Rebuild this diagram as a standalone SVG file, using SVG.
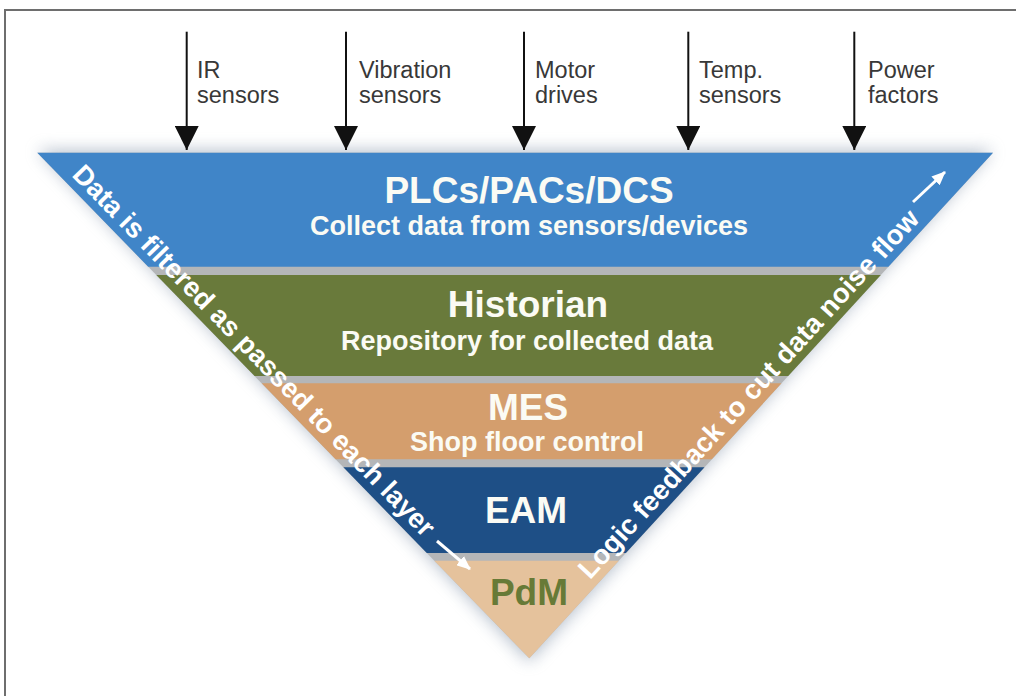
<svg xmlns="http://www.w3.org/2000/svg" width="1016" height="696" viewBox="0 0 1016 696">
<style>
.lbl{font-family:"Liberation Sans",Arial,sans-serif;font-size:23.5px;fill:#383838}
.ttl{font-family:"Liberation Sans",Arial,sans-serif;font-weight:bold;font-size:37px;fill:#fbfbf4;text-anchor:middle}
.sub{font-family:"Liberation Sans",Arial,sans-serif;font-weight:bold;font-size:27px;fill:#fbfbf4;text-anchor:middle}
.diag{font-family:"Liberation Sans",Arial,sans-serif;font-weight:bold;font-size:27.5px;fill:#ffffff}
.conn{stroke:#111;stroke-width:2;fill:none}
.warr{stroke:#fff;stroke-width:3;fill:none}
</style>
<defs>
<marker id="ah" viewBox="0 0 24 24" refX="24" refY="12" markerWidth="24" markerHeight="24" markerUnits="userSpaceOnUse" orient="auto">
<path d="M0,0 L24,12 L0,24 Z" fill="#111"/>
</marker>
<marker id="wh" viewBox="0 0 14 12" refX="13" refY="6" markerWidth="14" markerHeight="12" markerUnits="userSpaceOnUse" orient="auto">
<path d="M0,0 L14,6 L0,12 Z" fill="#fff"/>
</marker>
<filter id="blur" x="-20%" y="-20%" width="140%" height="140%">
<feGaussianBlur stdDeviation="8"/>
</filter>
</defs>
<rect x="0" y="0" width="1016" height="696" fill="#ffffff"/>
<rect x="5" y="10" width="1030" height="720" fill="none" stroke="#6e6e6e" stroke-width="2"/>

<polygon points="37.3,150 993,150 529.3,662" fill="#7f90a6" opacity="0.55" filter="url(#blur)"/>
<polygon points="37.3,152.7 993,152.7 529.3,658.3" fill="#b4b6b8"/>

<g id="plcs">
<polygon points="37.3,152.7 993,152.7 888.4,266.7 148.2,266.7" fill="#4085c8"/>
<text class="ttl" x="529" y="203">PLCs/PACs/DCS</text>
<text class="sub" x="529" y="235">Collect data from sensors/devices</text>
</g>
<g id="historian">
<polygon points="156.3,275 880.8,275 788.2,376 254.6,376" fill="#697a3b"/>
<text class="ttl" x="528" y="317">Historian</text>
<text class="sub" x="527" y="350">Repository for collected data</text>
</g>
<g id="mes">
<polygon points="261.7,383.3 781.5,383.3 711.8,459.3 335.6,459.3" fill="#d49e6d"/>
<text class="ttl" x="528" y="420">MES</text>
<text class="sub" x="527" y="451">Shop floor control</text>
</g>
<g id="eam">
<polygon points="343.4,467.3 704.5,467.3 625.9,553 426.8,553" fill="#1e4f86"/>
<text class="ttl" x="526" y="523">EAM</text>
</g>
<g id="pdm">
<polygon points="434.3,560.7 618.8,560.7 529.3,658.3" fill="#e5c29c"/>
<text class="ttl" x="529" y="605" style="fill:#677a37">PdM</text>
</g>

<g id="filter-note">
<text class="diag" transform="translate(70.9,175.8) rotate(45.78)">Data is filtered as passed to each layer</text>
<line class="warr" x1="437" y1="541" x2="470" y2="569" marker-end="url(#wh)"/>
</g>
<g id="feedback-note">
<text class="diag" transform="translate(590.1,580.2) rotate(-47.47)">Logic feedback to cut data noise flow</text>
<line class="warr" x1="913" y1="202" x2="945" y2="172" marker-end="url(#wh)"/>
</g>

<g id="ir"><text class="lbl" x="197" y="78">IR</text><text class="lbl" x="197" y="103">sensors</text></g>
<g id="vibration"><text class="lbl" x="359" y="78">Vibration</text><text class="lbl" x="359" y="103">sensors</text></g>
<g id="motor"><text class="lbl" x="535" y="78">Motor</text><text class="lbl" x="535" y="103">drives</text></g>
<g id="temp"><text class="lbl" x="699" y="78">Temp.</text><text class="lbl" x="699" y="103">sensors</text></g>
<g id="power"><text class="lbl" x="868" y="78">Power</text><text class="lbl" x="868" y="103">factors</text></g>

<g id="connectors">
<line class="conn" x1="186.7" y1="31.7" x2="186.7" y2="150" marker-end="url(#ah)"/>
<line class="conn" x1="346" y1="31.7" x2="346" y2="150" marker-end="url(#ah)"/>
<line class="conn" x1="524" y1="31.7" x2="524" y2="150" marker-end="url(#ah)"/>
<line class="conn" x1="688.3" y1="31.7" x2="688.3" y2="150" marker-end="url(#ah)"/>
<line class="conn" x1="854.3" y1="31.7" x2="854.3" y2="150" marker-end="url(#ah)"/>
</g>
</svg>
